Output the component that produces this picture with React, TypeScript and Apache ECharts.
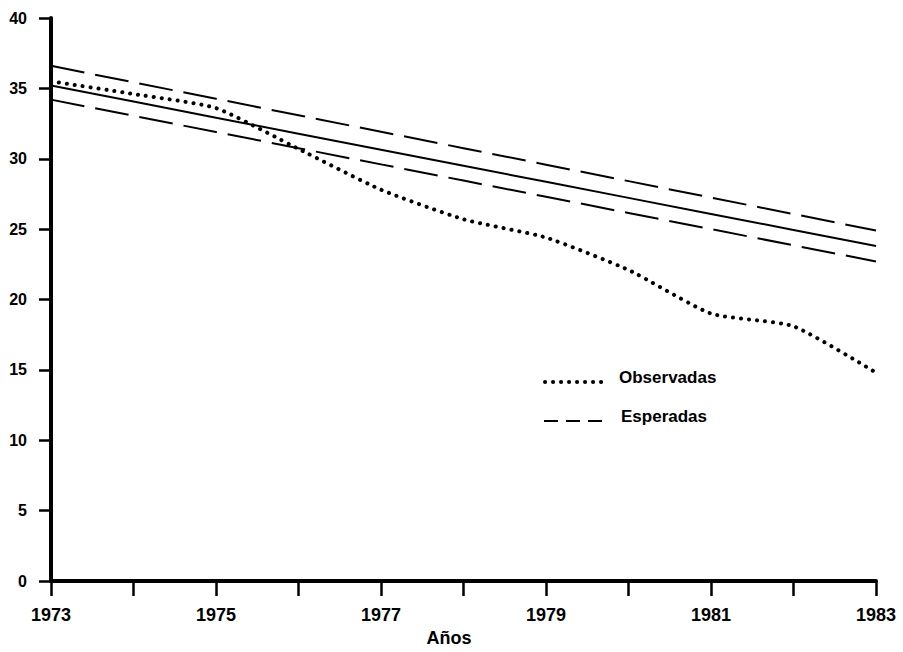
import React, { useEffect, useRef } from "react";
import * as echarts from "echarts";

const years = ["1973", "1974", "1975", "1976", "1977", "1978", "1979", "1980", "1981", "1982", "1983"];
const observadas = [35.5, 34.6, 33.6, 30.7, 27.8, 25.7, 24.4, 22.1, 19.0, 18.1, 14.8];
const esperadas = [35.2, 34.06, 32.92, 31.78, 30.64, 29.5, 28.36, 27.22, 26.08, 24.94, 23.8];
const limiteSuperior = [36.6, 35.43, 34.26, 33.09, 31.92, 30.75, 29.58, 28.41, 27.24, 26.07, 24.9];
const limiteInferior = [34.2, 33.05, 31.9, 30.75, 29.6, 28.45, 27.3, 26.15, 25.0, 23.85, 22.7];
const yTicks = { min: 0, max: 40, interval: 5 };
const xTitle = "Años";
const legendLabels = ["Observadas", "Esperadas"];

const FONT = "'Liberation Sans', Arial, Helvetica, sans-serif";

export default function App() {
  const ref = useRef<HTMLDivElement>(null);
  useEffect(() => {
    if (!ref.current) return;
    const chart = echarts.init(ref.current, undefined, { renderer: "svg" });
    chart.setOption({
      animation: false,
      backgroundColor: "#ffffff",
      grid: { left: 51, right: 27, top: 18, bottom: 71, containLabel: false },
      xAxis: {
        type: "category",
        data: years,
        boundaryGap: false,
        axisLine: { show: true, lineStyle: { color: "#000", width: 4 } },
        axisTick: { show: true, interval: 0, length: 15, lineStyle: { color: "#000", width: 2.5 } },
        axisLabel: {
          interval: 1,
          margin: 25,
          color: "#000",
          fontSize: 18,
          fontWeight: "bold",
          fontFamily: FONT,
        },
        splitLine: { show: false },
      },
      yAxis: {
        type: "value",
        min: yTicks.min,
        max: yTicks.max,
        interval: yTicks.interval,
        axisLine: { show: true, lineStyle: { color: "#000", width: 4 } },
        axisTick: { show: true, length: 12, lineStyle: { color: "#000", width: 2.5 } },
        axisLabel: {
          margin: 24,
          color: "#000",
          fontSize: 16,
          fontWeight: "bold",
          fontFamily: FONT,
        },
        splitLine: { show: false },
      },
      series: [
        {
          name: "Observadas",
          type: "line",
          data: observadas,
          smooth: 0.18,
          symbol: "none",
          lineStyle: { color: "#000", width: 4, type: [0.1, 7.9], cap: "round" },
        },
        {
          name: "Esperadas",
          type: "line",
          data: esperadas,
          symbol: "none",
          lineStyle: { color: "#000", width: 2 },
        },
        {
          name: "Superior",
          type: "line",
          data: limiteSuperior,
          symbol: "none",
          lineStyle: { color: "#000", width: 2, type: [34, 11] },
        },
        {
          name: "Inferior",
          type: "line",
          data: limiteInferior,
          symbol: "none",
          lineStyle: { color: "#000", width: 2, type: [34, 11] },
        },
      ],
      graphic: [
        {
          type: "line",
          shape: { x1: 545, y1: 382, x2: 603, y2: 382 },
          style: { stroke: "#000", lineWidth: 4, lineDash: [0.1, 7.9], lineCap: "round" },
        },
        {
          type: "text",
          x: 619,
          y: 377,
          style: {
            text: legendLabels[0],
            fill: "#000",
            fontSize: 17,
            fontWeight: "bold",
            fontFamily: FONT,
            verticalAlign: "middle",
            align: "left",
          },
        },
        {
          type: "line",
          shape: { x1: 544, y1: 421, x2: 604, y2: 421 },
          style: { stroke: "#000", lineWidth: 2, lineDash: [14, 8] },
        },
        {
          type: "text",
          x: 621,
          y: 416,
          style: {
            text: legendLabels[1],
            fill: "#000",
            fontSize: 17,
            fontWeight: "bold",
            fontFamily: FONT,
            verticalAlign: "middle",
            align: "left",
          },
        },
        {
          type: "text",
          x: 449,
          y: 638,
          style: {
            text: xTitle,
            fill: "#000",
            fontSize: 18,
            fontWeight: "bold",
            fontFamily: FONT,
            verticalAlign: "middle",
            align: "center",
          },
        },
      ],
    });
    return () => chart.dispose();
  }, []);
  return (
    <div
      ref={ref}
      style={{ position: "fixed", left: 0, top: 0, width: 903, height: 652, background: "#fff" }}
    />
  );
}
